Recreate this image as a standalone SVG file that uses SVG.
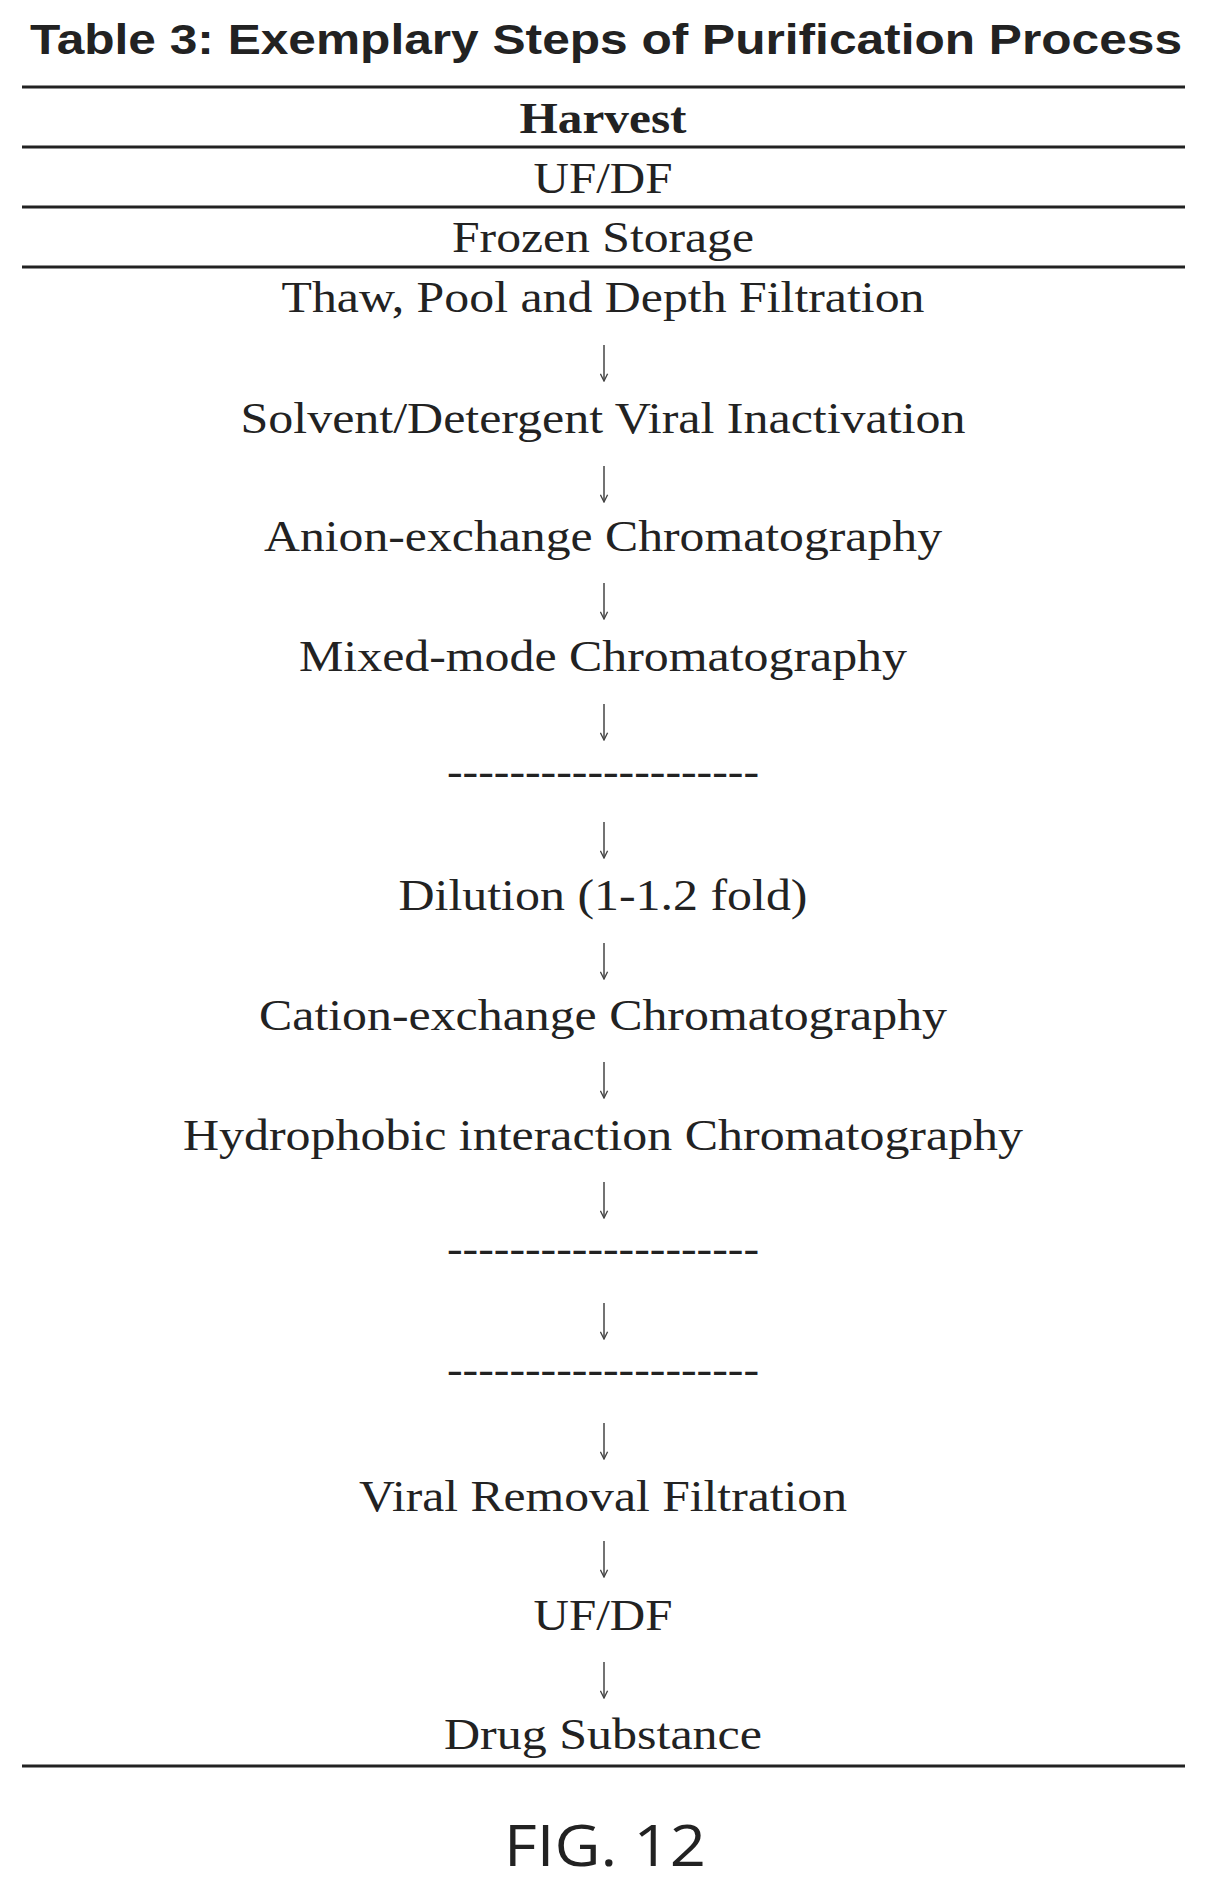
<svg xmlns="http://www.w3.org/2000/svg" width="1209" height="1901" viewBox="0 0 1209 1901">
<style>
.t{font-family:"Liberation Serif",serif;font-size:44px;fill:#222;text-anchor:middle}
.r{stroke:#222;stroke-width:3}
.a{stroke:#444;stroke-width:1.5;fill:none;marker-end:url(#ah)}
</style>
<defs><marker id="ah" viewBox="0 0 10 10" refX="9" refY="5" markerWidth="9" markerHeight="9" orient="auto" markerUnits="userSpaceOnUse"><path d="M1,1 L9,5 L1,9" fill="none" stroke="#444" stroke-width="1.5"/></marker></defs>
<rect width="1209" height="1901" fill="#fff"/>
<text x="606" y="54" font-family="Liberation Sans,sans-serif" font-weight="bold" font-size="42" fill="#222" text-anchor="middle" textLength="1152" lengthAdjust="spacingAndGlyphs">Table 3: Exemplary Steps of Purification Process</text>
<g id="rules">
<line class="r" x1="22" y1="87" x2="1185" y2="87"/>
<line class="r" x1="22" y1="147" x2="1185" y2="147"/>
<line class="r" x1="22" y1="207" x2="1185" y2="207"/>
<line class="r" x1="22" y1="267" x2="1185" y2="267"/>
<line class="r" x1="22" y1="1766" x2="1185" y2="1766"/>
</g>
<g id="n1"><text class="t" x="603" y="133" font-weight="bold" textLength="167" lengthAdjust="spacingAndGlyphs">Harvest</text></g>
<g id="n2"><text class="t" x="603" y="193" textLength="139" lengthAdjust="spacingAndGlyphs">UF/DF</text></g>
<g id="n3"><text class="t" x="603" y="252" textLength="302" lengthAdjust="spacingAndGlyphs">Frozen Storage</text></g>
<g id="n4"><text class="t" x="603" y="312" textLength="643" lengthAdjust="spacingAndGlyphs">Thaw, Pool and Depth Filtration</text></g>
<g id="n5"><text class="t" x="603" y="433" textLength="725" lengthAdjust="spacingAndGlyphs">Solvent/Detergent Viral Inactivation</text></g>
<g id="n6"><text class="t" x="603" y="551" textLength="678" lengthAdjust="spacingAndGlyphs">Anion-exchange Chromatography</text></g>
<g id="n7"><text class="t" x="603" y="671" textLength="608" lengthAdjust="spacingAndGlyphs">Mixed-mode Chromatography</text></g>
<g id="n8"><text class="t" x="603" y="786" textLength="312" lengthAdjust="spacingAndGlyphs">--------------------</text></g>
<g id="n9"><text class="t" x="603" y="910" textLength="409" lengthAdjust="spacingAndGlyphs">Dilution (1-1.2 fold)</text></g>
<g id="n10"><text class="t" x="603" y="1030" textLength="688" lengthAdjust="spacingAndGlyphs">Cation-exchange Chromatography</text></g>
<g id="n11"><text class="t" x="603" y="1150" textLength="840" lengthAdjust="spacingAndGlyphs">Hydrophobic interaction Chromatography</text></g>
<g id="n12"><text class="t" x="603" y="1263" textLength="312" lengthAdjust="spacingAndGlyphs">--------------------</text></g>
<g id="n13"><text class="t" x="603" y="1384" textLength="312" lengthAdjust="spacingAndGlyphs">--------------------</text></g>
<g id="n14"><text class="t" x="603" y="1511" textLength="488" lengthAdjust="spacingAndGlyphs">Viral Removal Filtration</text></g>
<g id="n15"><text class="t" x="603" y="1630" textLength="139" lengthAdjust="spacingAndGlyphs">UF/DF</text></g>
<g id="n16"><text class="t" x="603" y="1749" textLength="318" lengthAdjust="spacingAndGlyphs">Drug Substance</text></g>
<g id="connectors">
<line class="a" x1="604" y1="345" x2="604" y2="381"/>
<line class="a" x1="604" y1="466" x2="604" y2="502"/>
<line class="a" x1="604" y1="583" x2="604" y2="619"/>
<line class="a" x1="604" y1="704" x2="604" y2="740"/>
<line class="a" x1="604" y1="822" x2="604" y2="858"/>
<line class="a" x1="604" y1="943" x2="604" y2="979"/>
<line class="a" x1="604" y1="1062" x2="604" y2="1098"/>
<line class="a" x1="604" y1="1182" x2="604" y2="1218"/>
<line class="a" x1="604" y1="1303" x2="604" y2="1339"/>
<line class="a" x1="604" y1="1423" x2="604" y2="1459"/>
<line class="a" x1="604" y1="1541" x2="604" y2="1577"/>
<line class="a" x1="604" y1="1662" x2="604" y2="1698"/>
</g>
<text x="605" y="1866" font-family="Open Sans,sans-serif" font-size="56" fill="#222" text-anchor="middle" textLength="202" lengthAdjust="spacingAndGlyphs">FIG. 12</text>
</svg>
